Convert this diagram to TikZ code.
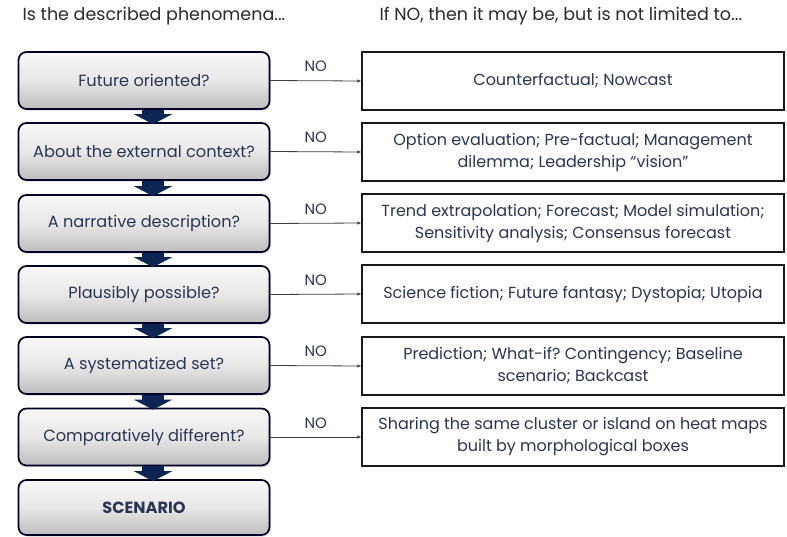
\documentclass[tikz,border=0pt]{standalone}
\usepackage{fontspec}
\setmainfont{Poppins}
\frenchspacing
\usetikzlibrary{arrows.meta,shadows,calc}
\definecolor{txt}{HTML}{2C3454}
\definecolor{navy}{HTML}{0E2452}
\definecolor{hdr}{HTML}{2A2A30}
\tikzset{
  qbox/.style={draw=black!85!blue, line width=1.7pt, rounded corners=8pt,
    top color=white!94!gray, bottom color=black!26, middle color=black!9,
    minimum width=251pt,
    minimum height=57pt, text=txt, font=\fontsize{16.2}{19}\selectfont,
    drop shadow={shadow xshift=1.5pt, shadow yshift=-1.5pt, opacity=0.3}},
  abox/.style={draw=black!90, line width=1.4pt, minimum width=422pt,
    minimum height=58pt, text=txt, align=center,
    font=\fontsize{16}{22}\selectfont},
  downarr/.style={navy, line width=22pt, -{Triangle[width=38pt,length=10pt]}},
  noarr/.style={draw=black!75, line width=0.8pt, -{Latex[length=4pt,width=3.5pt]}},
  nolab/.style={text=txt, font=\fontsize{15}{17}\selectfont},
  header/.style={text=hdr, font=\fontsize{17.5}{20}\selectfont, anchor=west}
}
\begin{document}
\begin{tikzpicture}[x=1pt,y=-1pt]
\useasboundingbox (0,0) rectangle (787,536);
\node[header] (h1) at (19,16) {Is the described phenomena...};
\node[header] (h2) at (376,16) {If NO, then it may be, but is not limited to...};

\node[qbox] (q1) at (144,80.5) {Future oriented?};
\node[qbox] (q2) at (144,151.5) {About the external context?};
\node[qbox] (q3) at (144,223.5) {A narrative description?};
\node[qbox] (q4) at (144,294.5) {Plausibly possible?};
\node[qbox] (q5) at (144,365.5) {A systematized set?};
\node[qbox] (q6) at (144,437) {Comparatively different?};
\node[qbox, minimum height=55pt] (q7) at (144,507.5) {\textbf{SCENARIO}};

\node[abox] (a1) at (573,81) {Counterfactual; Nowcast};
\node[abox] (a2) at (573,152) {Option evaluation; Pre-factual; Management\\dilemma; Leadership “vision”};
\node[abox] (a3) at (573,223) {Trend extrapolation; Forecast; Model simulation;\\Sensitivity analysis; Consensus forecast};
\node[abox] (a4) at (573,294) {Science fiction; Future fantasy; Dystopia; Utopia};
\node[abox] (a5) at (573,366) {Prediction; What-if? Contingency; Baseline\\scenario; Backcast};
\node[abox] (a6) at (573,437) {Sharing the same cluster or island on heat maps\\built by morphological boxes};

\foreach \i/\j in {1/2,2/3,3/4,4/5,5/6,6/7}
  \draw[downarr] ([xshift=9pt]q\i.south) -- ([xshift=9pt,yshift=-2pt]q\j.north);

\foreach \i in {1,...,6}{
  \draw[noarr] (q\i.east) -- (a\i.west);
  \node[nolab] (n\i) at ($(q\i.east)!0.5!(a\i.west)+(0,-14)$) {NO};
}
\end{tikzpicture}
\end{document}
